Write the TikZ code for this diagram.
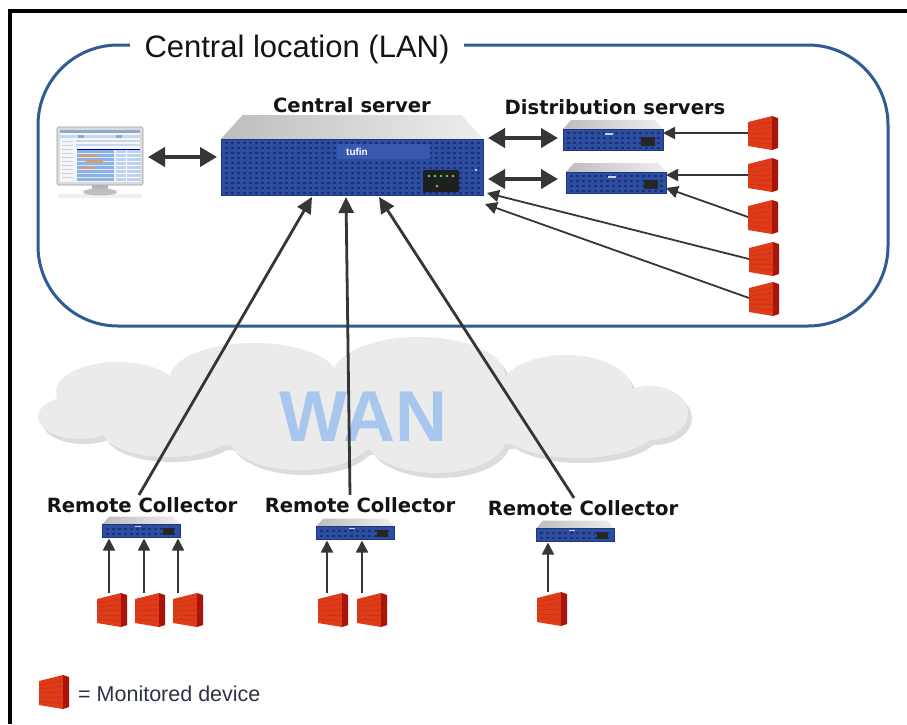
\documentclass[tikz,border=0pt]{standalone}
\usepackage{fontspec}
\setmainfont{Liberation Sans}
\newfontfamily\labelfont{DejaVu Sans}
\usetikzlibrary{arrows.meta,calc}

\definecolor{lanblue}{HTML}{2E5C93}
\definecolor{arrowgray}{HTML}{363636}
\definecolor{cloudgray}{HTML}{EBEBEB}
\definecolor{cloudshade}{HTML}{DCDCDC}
\definecolor{wanblue}{HTML}{A9C7EE}
\definecolor{rackblue}{HTML}{2D4DA0}
\definecolor{rackdark}{HTML}{1D3680}
\definecolor{rackdot}{HTML}{1A3274}
\definecolor{rackband}{HTML}{3859AE}
\definecolor{rackTopL}{HTML}{BDBDBD}
\definecolor{rackTopR}{HTML}{EEEEEE}
\definecolor{ledgreen}{HTML}{4FE06A}
\definecolor{fwred}{HTML}{DE3B18}
\definecolor{fwside}{HTML}{A9150B}
\definecolor{fwline}{HTML}{C22C12}
\definecolor{legendtext}{HTML}{2E3248}
\definecolor{labelcol}{HTML}{141414}
\definecolor{scrbg}{HTML}{F3F6FA}
\definecolor{scrhead}{HTML}{8FA9CC}
\definecolor{scrrow}{HTML}{C9D7EA}
\definecolor{scrchart}{HTML}{8DB1E2}
\definecolor{scrgrid}{HTML}{BCD2EE}
\definecolor{scrorange}{HTML}{E99A52}

% rack-mounted appliance: node, width, height, depth of the top face
\newcommand\rackunit[4]{%
  \begin{scope}[shift={(#1.north west)}]
    \pgfmathsetmacro\rkin{#4*0.9}
    \shade[left color=rackTopL,right color=rackTopR]
      (\rkin,0) -- (#2-\rkin,0) -- (#2,#4) -- (0,#4) -- cycle;
    \fill[rackblue] (0,#4) rectangle (#2,#3);
    \pgfmathtruncatemacro\rkcols{(#2-8)/6}
    \pgfmathtruncatemacro\rkrows{(#3-#4-6)/5}
    \foreach \i in {0,...,\rkcols}
      \foreach \j in {0,...,\rkrows}
        \fill[rackdot] (4+\i*6,#4+3+\j*5) rectangle +(2.8,2);
    \draw[rackdark,line width=0.6pt] (0,#4) rectangle (#2,#3);
  \end{scope}}

% front panel details of the small appliances
\newcommand\smallpanel[3]{%
  \begin{scope}[shift={(#1.north west)}]
    \fill[black!85] (#2*0.78,{#3*0.55}) rectangle (#2*0.92,{#3*0.88});
    \fill[white!75!rackblue] (#2*0.42,{#3*0.44}) rectangle (#2*0.5,{#3*0.5});
  \end{scope}}

% brick firewall standing for a monitored device
\newcommand\wallicon[1]{%
  \begin{scope}[shift={(#1.center)}]
    \fill[fwred] (-15,-11) -- (9,-17) -- (9,17) -- (-15,13) -- cycle;
    \fill[fwside] (9,-17) -- (15,-15) -- (15,15) -- (9,17) -- cycle;
    \foreach \k in {1,...,5}
      \draw[fwline,line width=0.4pt] (-15,{-11+\k*4}) -- (9,{-17+\k*34/6});
  \end{scope}}

\tikzset{
  frame/.style={line width=3.5pt,black},
  lan/.style={draw=lanblue,line width=3pt,rounded corners=80pt},
  lbl/.style={font=\labelfont\bfseries\fontsize{19.6}{22}\selectfont,text=labelcol,inner sep=0pt},
  spot/.style={inner sep=0pt,outer sep=0pt},
  fwnode/.style={spot,minimum width=30pt,minimum height=34pt},
  dbl/.style={{Triangle[length=17pt,width=19pt]}-{Triangle[length=17pt,width=19pt]},line width=4pt,draw=arrowgray},
  uplink/.style={-{Triangle[length=16pt,width=15pt]},line width=2.8pt,draw=arrowgray},
  feed/.style={-{Triangle[length=12pt,width=12pt]},line width=1.8pt,draw=arrowgray},
}

\begin{document}
\begin{tikzpicture}[x=1pt,y=-1pt]
\useasboundingbox (0,0) rectangle (907,724);
\fill[white] (0,0) rectangle (907,724);

% outer frame (left and top edges)
\draw[frame] (10,724) -- (10,11) -- (907,11);

% central location
\draw[lan] (38,45) rectangle (888,326);
\node[fill=white,inner xsep=15pt,inner ysep=2pt,anchor=base,
      font=\fontsize{31}{34}\selectfont,text=labelcol] (lanttl) at (297,57) {Central location (LAN)};

% WAN cloud
\begin{scope}[shift={(4,5)}]
  \foreach \cx/\cy/\rx/\ry in {80/417/42/22,118/392/62/30,254/378/84/35,419/375/86/38,
      566/390/66/35,650/413/38/27,578/428/78/30,436/438/70/35,300/436/72/34,168/430/66/27,360/410/280/40}
    \fill[cloudshade] (\cx,\cy) ellipse [x radius=\rx,y radius=\ry];
\end{scope}
\foreach \cx/\cy/\rx/\ry in {80/417/42/22,118/392/62/30,254/378/84/35,419/375/86/38,
    566/390/66/35,650/413/38/27,578/428/78/30,436/438/70/35,300/436/72/34,168/430/66/27,360/410/280/40}
  \fill[cloudgray] (\cx,\cy) ellipse [x radius=\rx,y radius=\ry];
\node[anchor=base,font=\bfseries\fontsize{72}{72}\selectfont,text=wanblue,inner sep=0pt] (wan) at (363,441) {WAN};

% workstation
\node[spot,minimum width=88pt,minimum height=72pt] (mon) at (100,162) {};
\begin{scope}[shift={(mon.north west)}]
  \fill[black!6] (2,68) rectangle (86,72);
  \draw[fill=black!14,draw=black!38,line width=0.6pt,rounded corners=1.5pt] (1,1) rectangle (87,59);
  \fill[scrbg] (4,4) rectangle (84,56);
  \fill[scrhead] (4,4) rectangle (84,7);
  \fill[scrrow] (4,9) rectangle (84,12);
  \fill[scrrow] (20,14) rectangle (84,16);
  \fill[scrrow] (20,18) rectangle (84,20);
  \fill[scrhead] (22,9) rectangle (28,12);
  \fill[scrhead] (60,9) rectangle (66,12);
  \foreach \r in {15,19,...,51} \fill[black!18] (6,\r) rectangle (17,\r+1);
  \fill[scrchart] (21,23) rectangle (58,55);
  \foreach \r in {27,31,...,51} \draw[white!70!scrchart,line width=0.4pt] (21,\r) -- (58,\r);
  \fill[scrorange] (24,29) rectangle (42,30.5);
  \fill[scrorange] (30,34) rectangle (47,35.5);
  \fill[scrorange] (26,41) rectangle (38,42.5);
  \fill[scrgrid] (60,23) rectangle (84,55);
  \foreach \r in {27,31,...,51} \draw[white,line width=0.4pt] (60,\r) -- (84,\r);
  \draw[white,line width=0.4pt] (70,23) -- (70,55);
  \draw[blue!55!black,line width=0.6pt] (21,23) -- (84,23);
  \fill[black!30] (36,59) rectangle (52,64);
  \fill[black!25] (44,66) ellipse [x radius=17,y radius=3.5];
\end{scope}

% central server
\node[spot,minimum width=262pt,minimum height=80pt] (cs) at (352,155) {};
\rackunit{cs}{262}{80}{24}
\begin{scope}[shift={(cs.north west)}]
  \fill[rackband] (116,29) rectangle (209,44);
  \node[text=white,font=\bfseries\fontsize{10}{10}\selectfont,inner sep=0pt] (logo) at (136,36.5) {tufin};
  \fill[black!88,rounded corners=1pt] (202,55) rectangle (238,77);
  \foreach \k in {0,...,4} \fill[ledgreen] (208+\k*6,61) circle (1.4);
  \fill[ledgreen] (216,71) circle (1.3);
  \fill[white!70!rackblue] (255,55) circle (1.3);
\end{scope}
\node[lbl,anchor=base] (cslbl) at (352,112) {Central server};

% distribution servers
\node[spot,minimum width=100pt,minimum height=30pt] (ds1) at (613,135) {};
\node[spot,minimum width=100pt,minimum height=30pt] (ds2) at (616,178) {};
\rackunit{ds1}{100}{30}{9}\smallpanel{ds1}{100}{30}
\rackunit{ds2}{100}{30}{9}\smallpanel{ds2}{100}{30}
\node[lbl,anchor=base] (dslbl) at (615,114) {Distribution servers};

% remote collectors
\node[spot,minimum width=78pt,minimum height=21pt] (rc1) at (141,527) {};
\node[spot,minimum width=78pt,minimum height=21pt] (rc2) at (355,529) {};
\node[spot,minimum width=78pt,minimum height=21pt] (rc3) at (575,531) {};
\foreach \r in {rc1,rc2,rc3} {\rackunit{\r}{78}{21}{8}\smallpanel{\r}{78}{21}}
\node[lbl,anchor=base] (rcl1) at (142,512) {Remote Collector};
\node[lbl,anchor=base] (rcl2) at (360,512) {Remote Collector};
\node[lbl,anchor=base] (rcl3) at (583,515) {Remote Collector};

% monitored devices
\node[fwnode] (f1) at (763,133) {};
\node[fwnode] (f2) at (763,175) {};
\node[fwnode] (f3) at (763,217) {};
\node[fwnode] (f4) at (764,259) {};
\node[fwnode] (f5) at (764,299) {};
\node[fwnode] (b1) at (112,610) {};
\node[fwnode] (b2) at (150,610) {};
\node[fwnode] (b3) at (188,610) {};
\node[fwnode] (b4) at (333,610) {};
\node[fwnode] (b5) at (372,610) {};
\node[fwnode] (b6) at (552,609) {};
\node[fwnode] (lg) at (54,692) {};
\foreach \d in {f1,f2,f3,f4,f5,b1,b2,b3,b4,b5,b6,lg} {\wallicon{\d}}
\node[anchor=base west,inner sep=0pt,font=\fontsize{21.5}{24}\selectfont,text=legendtext] (lgtxt) at (78,701) {= Monitored device};

% links inside the central location
\draw[dbl] ($(mon.east)+(4,-5)$) -- ($(mon.east -| cs.west)+(-4,-5)$);
\draw[dbl] ($(cs.east |- ds1.west)+(5,3)$) -- ($(ds1.west)+(-5,3)$);
\draw[dbl] ($(cs.east |- ds2.west)+(5,1)$) -- ($(ds2.west)+(-8,1)$);
\draw[feed] (f1.west) -- (f1.west -| ds1.east);
\draw[feed] (f2.west) -- (f2.west -| ds2.east);
\draw[feed] (f3.west) -- ($(ds2.east)+(0,10)$);
\draw[feed] (f4.west) -- ($(cs.south east)+(4,-2)$);
\draw[feed] ($(f5.west)+(0,-1)$) -- ($(cs.south east)+(2,9)$);

% links across the WAN
\draw[uplink] ($(rcl1.north)+(-3,-2)$) -- ($(cs.south)+(-40,2)$);
\draw[uplink] ($(rcl2.north)+(-10,-2)$) -- ($(cs.south)+(-6,2)$);
\draw[uplink] ($(rcl3.north)+(-9,-2)$) -- ($(cs.south)+(27,2)$);

% links to the remote collectors
\draw[feed] ($(b1.north)+(-3,0)$) -- ($(b1.north |- rc1.south)+(-3,1)$);
\draw[feed] ($(b2.north)+(-6,0)$) -- ($(b2.north |- rc1.south)+(-6,1)$);
\draw[feed] ($(b3.north)+(-10,0)$) -- ($(b3.north |- rc1.south)+(-10,1)$);
\draw[feed] ($(b4.north)+(-6,0)$) -- ($(b4.north |- rc2.south)+(-6,1)$);
\draw[feed] ($(b5.north)+(-10,0)$) -- ($(b5.north |- rc2.south)+(-10,1)$);
\draw[feed] ($(b6.north)+(-4,0)$) -- ($(b6.north |- rc3.south)+(-4,1)$);
\end{tikzpicture}
\end{document}
